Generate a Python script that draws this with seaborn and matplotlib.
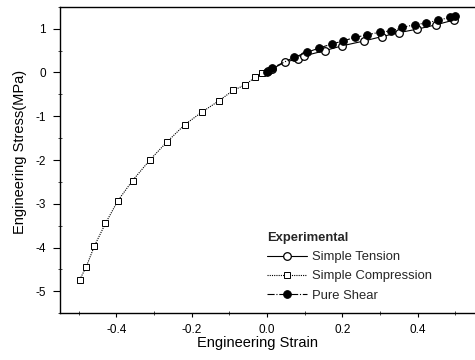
import matplotlib
matplotlib.use("Agg")
import matplotlib.pyplot as plt
import seaborn as sns
import numpy as np
import pandas as pd
from matplotlib.ticker import MultipleLocator

sns.set_theme(style="ticks")
plt.rcParams['font.family'] = ['Liberation Sans', 'DejaVu Sans']

comp_x = [-0.497, -0.480, -0.458, -0.429, -0.396, -0.357, -0.310, -0.266, -0.218,
          -0.172, -0.128, -0.090, -0.057, -0.032, -0.012]
comp_y = [-4.73, -4.44, -3.96, -3.45, -2.93, -2.47, -1.99, -1.59, -1.19,
          -0.90, -0.65, -0.41, -0.28, -0.11, -0.02]

ten_x = [0.003, 0.013, 0.049, 0.082, 0.099, 0.154, 0.200, 0.258, 0.305, 0.350,
         0.399, 0.449, 0.497]
ten_y = [0.04, 0.08, 0.24, 0.31, 0.38, 0.50, 0.61, 0.72, 0.82, 0.91,
         0.99, 1.09, 1.20]

shear_x = [0.000, 0.013, 0.073, 0.106, 0.139, 0.172, 0.202, 0.233, 0.266, 0.299,
           0.330, 0.359, 0.392, 0.422, 0.453, 0.486, 0.499]
shear_y = [0.02, 0.10, 0.35, 0.46, 0.56, 0.65, 0.72, 0.80, 0.86, 0.92,
           0.95, 1.03, 1.09, 1.13, 1.19, 1.26, 1.29]

fig = plt.figure(figsize=(4.75, 3.6), dpi=100)
ax = fig.add_axes([0.126, 0.130, 0.872, 0.851])

sns.lineplot(x=ten_x, y=ten_y, ax=ax, sort=False, estimator=None, color='black',
             linestyle='-', linewidth=0.8, marker='o', markersize=5.5,
             markerfacecolor='white', markeredgecolor='black', markeredgewidth=0.9,
             label='Simple Tension', zorder=3)
sns.lineplot(x=comp_x, y=comp_y, ax=ax, sort=False, estimator=None, color='black',
             linestyle=(0, (1, 1)), linewidth=0.8, marker='s', markersize=4.5,
             markerfacecolor='white', markeredgecolor='black', markeredgewidth=0.7,
             label='Simple Compression', zorder=2)
sns.lineplot(x=shear_x, y=shear_y, ax=ax, sort=False, estimator=None, color='black',
             linestyle='-.', linewidth=0.8, marker='o', markersize=5.5,
             markerfacecolor='black', markeredgecolor='black',
             label='Pure Shear', zorder=4)

ax.set_xlim(-0.55, 0.55)
ax.set_ylim(-5.5, 1.5)
ax.xaxis.set_minor_locator(MultipleLocator(0.1))
ax.yaxis.set_minor_locator(MultipleLocator(0.5))
ax.set_xticks([-0.4, -0.2, 0.0, 0.2, 0.4])
ax.set_xticklabels(['-0.4', '-0.2', '0.0', '0.2', '0.4'])
ax.set_yticks([1, 0, -1, -2, -3, -4, -5])
ax.set_yticklabels(['1', '0', '-1', '-2', '-3', '-4', '-5'])
ax.tick_params(axis='x', which='major', direction='out', length=3, width=0.8,
               labelsize=8.5, colors='black', pad=5)
ax.tick_params(axis='y', which='major', direction='out', length=5, width=0.8,
               labelsize=8.5, colors='black', pad=5)
ax.tick_params(axis='both', which='minor', direction='inout', length=3, width=0.6)

for s in ['left', 'bottom', 'top']:
    ax.spines[s].set_linewidth(1.0)
    ax.spines[s].set_color('black')
ax.spines['right'].set_visible(False)

ax.set_xlabel('Engineering Strain', fontsize=10.5, color='black')
ax.set_ylabel('Engineering Stress(MPa)', fontsize=10.5, color='black')
ax.xaxis.set_label_coords(0.476, -0.074)
ax.yaxis.set_label_coords(-0.080, 0.526)

leg = ax.legend(title='Experimental', loc='upper left',
                bbox_to_anchor=(267 / 475, 1 - 232 / 360),
                bbox_transform=fig.transFigure,
                frameon=False, fontsize=9.4, handlelength=3.1, handletextpad=0.36,
                labelspacing=0.55, borderaxespad=0, borderpad=0, alignment='left',
                title_fontproperties={'weight': 'bold', 'size': 9.4})
leg._legend_box.sep = 5

fig.savefig('out.png', dpi=100)
